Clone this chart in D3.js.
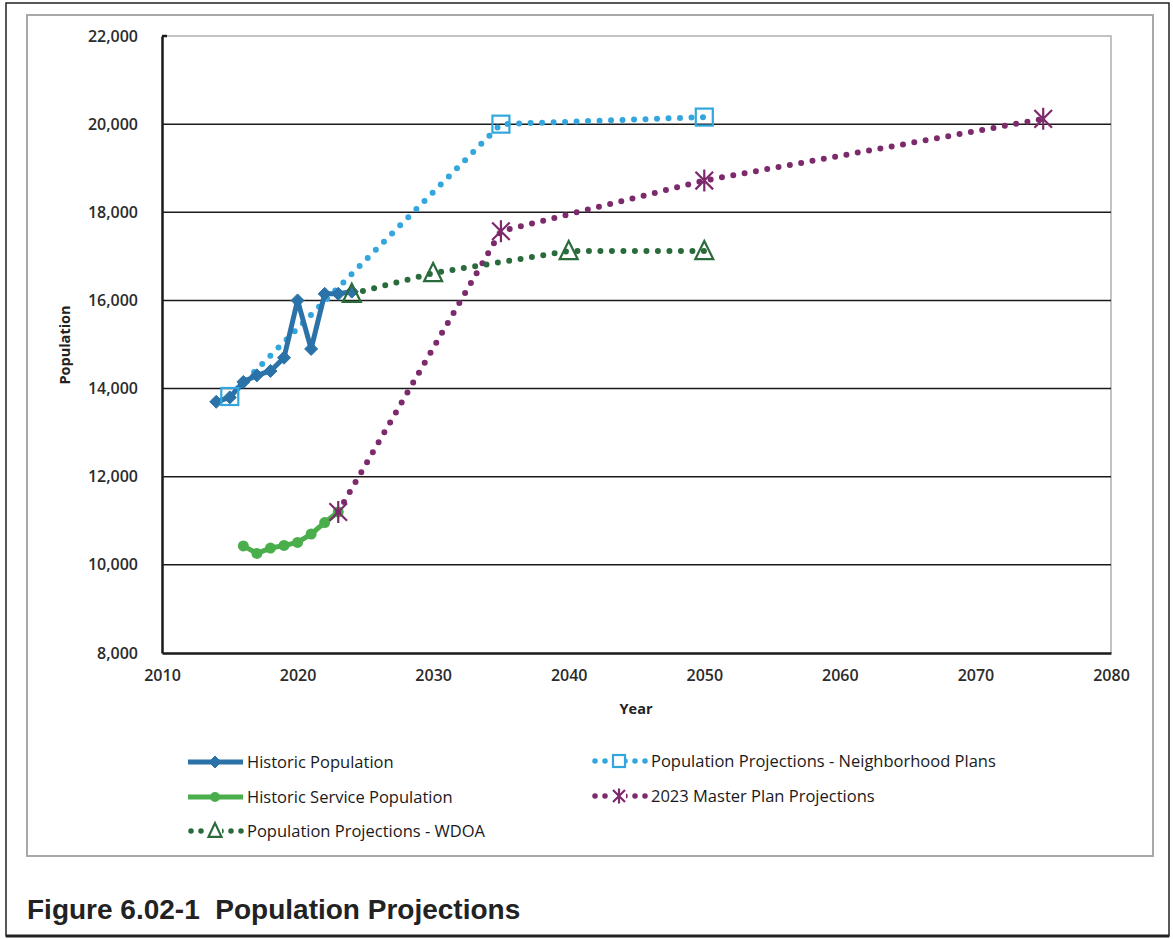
<!DOCTYPE html>
<html>
<head>
<meta charset="utf-8">
<script src="https://cdn.jsdelivr.net/npm/d3@7"></script>
<style>
  html, body { margin: 0; padding: 0; background: #fff; }
  svg { display: block; }
</style>
</head>
<body>
<svg id="chart" width="1173" height="939"></svg>
<script>
// ---------- DATA ----------
const histYears = [2014, 2015, 2016, 2017, 2018, 2019, 2020, 2021, 2022, 2023, 2024];
const histPop   = [13700, 13800, 14150, 14300, 14400, 14700, 16000, 14900, 16150, 16150, 16200];

const servYears = [2016, 2017, 2018, 2019, 2020, 2021, 2022, 2023];
const servPop   = [10430, 10260, 10380, 10440, 10510, 10700, 10960, 11200];

const wdoaYears = [2024, 2030, 2040, 2050];
const wdoaPop   = [16150, 16620, 17120, 17120];

const nbhdYears = [2015, 2035, 2050];
const nbhdPop   = [13820, 20000, 20160];

const mpYears = [2023, 2035, 2050, 2075];
const mpPop   = [11200, 17570, 18720, 20120];

const xTicks = [2010, 2020, 2030, 2040, 2050, 2060, 2070, 2080];
const yTicks = [8000, 10000, 12000, 14000, 16000, 18000, 20000, 22000];

const legendLabels = [
  "Historic Population",
  "Historic Service Population",
  "Population Projections - WDOA",
  "Population Projections - Neighborhood Plans",
  "2023 Master Plan Projections"
];

// ---------- STYLE ----------
const C = {
  hist: "#2a72a8",
  serv: "#4aae4c",
  wdoa: "#2a6b3c",
  nbhd: "#33a6de",
  mp:   "#7d2a6c"
};
const FONT = "'Open Sans', sans-serif";

const svg = d3.select("#chart");

// frames
svg.append("rect").attr("x", 6).attr("y", 3).attr("width", 1163).attr("height", 933)
  .attr("fill", "#fff").attr("stroke", "#222").attr("stroke-width", 1.5);
svg.append("line").attr("x1", 6).attr("x2", 1169).attr("y1", 936).attr("y2", 936)
  .attr("stroke", "#222").attr("stroke-width", 3);
svg.append("rect").attr("x", 27).attr("y", 15).attr("width", 1126).attr("height", 841)
  .attr("fill", "#fff").attr("stroke", "#a8a8a8").attr("stroke-width", 2);

const plot = { left: 162, right: 1111, top: 36, bottom: 653 };

const x = d3.scaleLinear().domain([2010, 2080]).range([plot.left, plot.right]);
const y = d3.scaleLinear().domain([8000, 22000]).range([plot.bottom, plot.top]);

// plot border (gray top/right)
svg.append("path")
  .attr("d", `M${plot.left},${plot.top}H${plot.right}V${plot.bottom}`)
  .attr("fill", "none").attr("stroke", "#b0b0b0").attr("stroke-width", 1.5);

// gridlines
svg.append("g").selectAll("line")
  .data(yTicks.filter(v => v > 8000 && v < 22000))
  .join("line")
  .attr("x1", plot.left).attr("x2", plot.right)
  .attr("y1", d => y(d)).attr("y2", d => y(d))
  .attr("stroke", "#1a1a1a").attr("stroke-width", 1.5);

// axes
const fmt = d3.format(",");
const yAxis = svg.append("g").attr("transform", `translate(${plot.left},0)`)
  .call(d3.axisLeft(y).tickValues(yTicks).tickFormat(fmt).tickSize(0).tickPadding(24));
yAxis.select(".domain").attr("stroke", "#1a1a1a").attr("stroke-width", 2.5);
yAxis.selectAll("text").attr("font-family", FONT)
  .attr("font-size", 16).attr("font-weight", 600).attr("fill", "#2b2b2b");

const xAxis = svg.append("g").attr("transform", `translate(0,${plot.bottom})`)
  .call(d3.axisBottom(x).tickValues(xTicks).tickFormat(d3.format("d")).tickSize(0).tickPadding(17));
xAxis.select(".domain").attr("stroke", "#1a1a1a").attr("stroke-width", 2.5);
xAxis.selectAll("text").attr("font-family", FONT)
  .attr("font-size", 16).attr("font-weight", 600).attr("fill", "#2b2b2b");

// small black tick at top-left
svg.append("line").attr("x1", plot.left).attr("x2", plot.left + 5)
  .attr("y1", plot.top).attr("y2", plot.top).attr("stroke", "#1a1a1a").attr("stroke-width", 2.5);

// axis titles
svg.append("text").attr("x", 636).attr("y", 714)
  .attr("text-anchor", "middle").attr("font-family", FONT)
  .attr("font-size", 14.5).attr("font-weight", 700).attr("fill", "#222").text("Year");
svg.append("text").attr("transform", `translate(70,345) rotate(-90)`)
  .attr("text-anchor", "middle").attr("font-family", FONT)
  .attr("font-size", 14.5).attr("font-weight", 700).attr("fill", "#222").text("Population");

// ---------- SERIES ----------
const line = d3.line().x(d => x(d[0])).y(d => y(d[1]));
const zip = (a, b) => a.map((v, i) => [v, b[i]]);

const g = svg.append("g");

function solid(data, color) {
  g.append("path").attr("d", line(data)).attr("fill", "none")
    .attr("stroke", color).attr("stroke-width", 5).attr("stroke-linejoin", "round");
}
function dotted(data, color) {
  g.append("path").attr("d", line(data)).attr("fill", "none")
    .attr("stroke", color).attr("stroke-width", 6).attr("stroke-linecap", "round")
    .attr("stroke-dasharray", "0 11.5");
}

function diamond(sel, cx, cy, color, r) {
  sel.append("path").attr("d", `M${cx},${cy - r}L${cx + r},${cy}L${cx},${cy + r}L${cx - r},${cy}Z`)
    .attr("fill", color).attr("stroke", color).attr("stroke-width", 1);
}
function circleM(sel, cx, cy, color, r) {
  sel.append("circle").attr("cx", cx).attr("cy", cy).attr("r", r).attr("fill", color);
}
function square(sel, cx, cy, color, s) {
  sel.append("rect").attr("x", cx - s / 2).attr("y", cy - s / 2).attr("width", s).attr("height", s)
    .attr("fill", "none").attr("stroke", color).attr("stroke-width", 2.2);
}
function triangle(sel, cx, cy, color, s) {
  const h = s * 0.9;
  sel.append("path").attr("d", `M${cx},${cy - h / 2 - 2}L${cx + s / 2},${cy + h / 2}L${cx - s / 2},${cy + h / 2}Z`)
    .attr("fill", "none").attr("stroke", color).attr("stroke-width", 2.2);
}
function asterisk(sel, cx, cy, color, s) {
  const r = s / 2;
  const p = `M${cx},${cy - r}V${cy + r}M${cx - r * 0.8},${cy - r * 0.8}L${cx + r * 0.8},${cy + r * 0.8}M${cx + r * 0.8},${cy - r * 0.8}L${cx - r * 0.8},${cy + r * 0.8}`;
  sel.append("path").attr("d", p).attr("fill", "none").attr("stroke", color).attr("stroke-width", 2.2);
}

const histData = zip(histYears, histPop);
const servData = zip(servYears, servPop);
const wdoaData = zip(wdoaYears, wdoaPop);
const nbhdData = zip(nbhdYears, nbhdPop);
const mpData = zip(mpYears, mpPop);

// draw order
dotted(nbhdData, C.nbhd);
solid(servData, C.serv);
servData.forEach(d => circleM(g, x(d[0]), y(d[1]), C.serv, 5.5));
dotted(mpData, C.mp);
dotted(wdoaData, C.wdoa);
solid(histData, C.hist);
histData.forEach(d => diamond(g, x(d[0]), y(d[1]), C.hist, 6.5));
nbhdData.forEach(d => square(g, x(d[0]), y(d[1]), C.nbhd, 17));
wdoaData.forEach(d => triangle(g, x(d[0]), y(d[1]), C.wdoa, 18));
mpData.forEach(d => asterisk(g, x(d[0]), y(d[1]), C.mp, 22));

// ---------- LEGEND ----------
const lg = svg.append("g");
const legendItems = [
  { label: legendLabels[0], x: 188, y: 762, color: C.hist, kind: "solid", marker: "diamond" },
  { label: legendLabels[1], x: 188, y: 797, color: C.serv, kind: "solid", marker: "circle" },
  { label: legendLabels[2], x: 188, y: 831, color: C.wdoa, kind: "dotted", marker: "triangle" },
  { label: legendLabels[3], x: 592, y: 761, color: C.nbhd, kind: "dotted", marker: "square" },
  { label: legendLabels[4], x: 592, y: 796, color: C.mp, kind: "dotted", marker: "asterisk" }
];
legendItems.forEach(it => {
  const x0 = it.x, x1 = it.x + 55, cx = it.x + 27;
  if (it.kind === "solid") {
    lg.append("line").attr("x1", x0).attr("x2", x1).attr("y1", it.y).attr("y2", it.y)
      .attr("stroke", it.color).attr("stroke-width", 5);
  } else {
    lg.append("line").attr("x1", x0 + 3).attr("x2", x1).attr("y1", it.y).attr("y2", it.y)
      .attr("stroke", it.color).attr("stroke-width", 5.5).attr("stroke-linecap", "round")
      .attr("stroke-dasharray", "0 10");
  }
  if (it.marker === "diamond") diamond(lg, cx, it.y, it.color, 6);
  if (it.marker === "circle") circleM(lg, cx, it.y, it.color, 5);
  if (it.marker === "triangle") { lg.append("rect").attr("x", cx - 7).attr("y", it.y - 8).attr("width", 14).attr("height", 14).attr("fill", "#fff"); triangle(lg, cx, it.y, it.color, 13); }
  if (it.marker === "square") { lg.append("rect").attr("x", cx - 7).attr("y", it.y - 7).attr("width", 14).attr("height", 14).attr("fill", "#fff"); square(lg, cx, it.y, it.color, 12); }
  if (it.marker === "asterisk") { lg.append("rect").attr("x", cx - 7).attr("y", it.y - 8).attr("width", 14).attr("height", 16).attr("fill", "#fff"); asterisk(lg, cx, it.y, it.color, 15); }
  lg.append("text").attr("x", x1 + 4).attr("y", it.y + 6)
    .attr("font-family", FONT).attr("font-size", 16.5).attr("font-weight", 500).attr("fill", "#1a1a1a")
    .text(it.label);
});

// ---------- TITLE ----------
svg.append("text").attr("x", 27).attr("y", 919)
  .attr("font-family", "'Liberation Sans', Arial, sans-serif").attr("font-size", 28)
  .attr("font-weight", 700).attr("fill", "#222").style("white-space", "pre")
  .text("Figure 6.02-1  Population Projections");
</script>
</body>
</html>
